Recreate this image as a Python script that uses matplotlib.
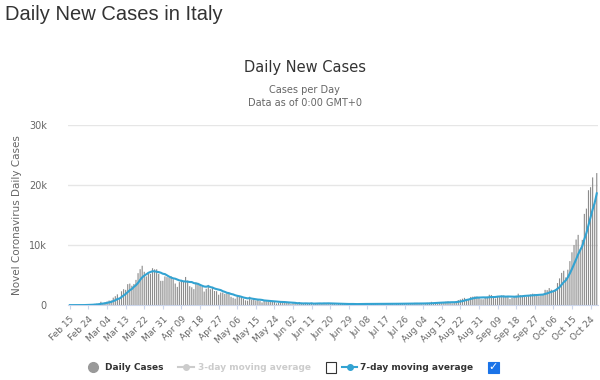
import numpy as np
import pandas as pd
import matplotlib
matplotlib.use("Agg")
import matplotlib.pyplot as plt
from matplotlib.lines import Line2D
from matplotlib.patches import Rectangle

# ---------------- data (Italy, daily new cases, Feb 15 - Oct 27 2020) ----------------
start_date = "2020-02-15"

feb = [0, 0, 0, 0, 0, 0, 17, 59, 76, 74, 93, 131, 202, 233, 240]
mar = [566, 342, 466, 587, 769, 778, 1247, 1492, 1797, 977, 2313, 2651, 2547, 3497, 3590,
       3233, 3526, 4207, 5322, 5986, 6557, 5560, 4789, 5249, 5210, 6153, 5959, 5974, 5217,
       4050, 4053]
apr = [4782, 4668, 4585, 4805, 4316, 3599, 3039, 3836, 4204, 3951, 4694, 4092, 3153, 2972,
       2667, 3786, 3493, 3491, 3047, 2256, 2729, 3370, 2646, 3021, 2357, 2324, 1739, 2091,
       2086, 1872]
may = [1965, 1900, 1389, 1221, 1075, 1444, 1401, 1327, 1083, 802, 744, 1402, 888, 992, 789,
       875, 675, 451, 813, 665, 642, 652, 669, 531, 300, 397, 584, 593, 516, 416, 355]
jun = [178, 318, 321, 177, 518, 270, 197, 280, 283, 202, 379, 163, 346, 338, 301, 210, 329,
       333, 251, 262, 224, 218, 122, 190, 296, 259, 175, 174, 126, 142]
jul = [187, 201, 223, 235, 192, 208, 138, 193, 229, 276, 188, 234, 169, 114, 162, 230, 233,
       249, 218, 190, 129, 282, 306, 252, 275, 255, 170, 181, 202, 289, 386]
aug = [379, 295, 239, 159, 190, 384, 402, 552, 347, 463, 259, 412, 481, 523, 574, 629, 479,
       320, 403, 642, 845, 947, 1071, 1210, 953, 878, 1367, 1411, 1460, 1444, 1365]
sep = [996, 978, 1326, 1397, 1733, 1695, 1297, 1108, 1370, 1434, 1597, 1616, 1501, 1458,
       1008, 1229, 1452, 1585, 1907, 1638, 1587, 1350, 1392, 1640, 1786, 1912, 1869, 1766,
       1494, 1648]
oct_ = [1851, 2548, 2499, 2844, 2578, 2257, 2677, 3678, 4458, 5372, 5724, 4619, 5901, 7332,
        8804, 10010, 10925, 11705, 9338, 10874, 15199, 16079, 19143, 19644, 21273, 17012,
        21994]

daily_cases = np.array(feb + mar + apr + may + jun + jul + aug + sep + oct_, dtype=float)
dates = pd.date_range(start_date, periods=len(daily_cases), freq="D")
avg7 = pd.Series(daily_cases).rolling(7, min_periods=1).mean().values

y_ticks = [0, 10000, 20000, 30000]
y_tick_labels = ["0", "10k", "20k", "30k"]

# ---------------- figure ----------------
BAR = "#8c8c8c"
LINE = "#33a3d2"
TXT = "#666666"

fig = plt.figure(figsize=(6, 3.8), dpi=100)
ax = fig.add_axes([0.113, 0.197, 0.884, 0.474])

x = np.arange(len(daily_cases))
ax.bar(x, daily_cases, width=0.55, color=BAR, linewidth=0, zorder=2, snap=False)
ax.plot(x, avg7, color=LINE, linewidth=1.5, zorder=3)

ax.set_xlim(-1, len(daily_cases) - 0.3)
ax.set_ylim(0, 30000)
ax.set_yticks(y_ticks)
ax.set_yticklabels(y_tick_labels, color=TXT, fontsize=7)
ax.yaxis.grid(True, color="#e6e6e6", linewidth=1, zorder=0)
ax.tick_params(axis="y", length=0, pad=15)

tick_idx = x[::9]
ax.set_xticks(tick_idx)
ax.set_xticklabels([d.strftime("%b %d") for d in dates[::9]], rotation=45, ha="right",
                   rotation_mode="anchor", color=TXT, fontsize=6.5)
ax.tick_params(axis="x", length=3, color="#ccd6eb", pad=4)

for s in ["top", "right", "left"]:
    ax.spines[s].set_visible(False)
ax.spines["bottom"].set_color("#ccd6eb")

ax.set_ylabel("Novel Coronavirus Daily Cases", color=TXT, fontsize=7.5, labelpad=5)

# titles
fig.text(0.008, 0.962, "Daily New Cases in Italy", fontsize=14.5, color="#333333",
         family="Liberation Sans", va="center")
fig.text(0.508, 0.823, "Daily New Cases", fontsize=10.5, color="#333333", ha="center",
         va="center")
fig.text(0.508, 0.763, "Cases per Day", fontsize=7, color=TXT, ha="center", va="center")
fig.text(0.508, 0.728, "Data as of 0:00 GMT+0", fontsize=7, color=TXT, ha="center",
         va="center")

# legend (manual, highcharts style)
ly = 1 - 367 / 380
fig.add_artist(Line2D([93 / 600], [ly], marker="o", markersize=7, color="#999999",
                      linestyle="none"))
fig.text(105 / 600, ly, "Daily Cases", fontsize=6.5, fontweight="bold", color="#333333",
         va="center")
fig.add_artist(Line2D([178 / 600, 194 / 600], [ly, ly], color="#cccccc", linewidth=1.5))
fig.add_artist(Line2D([186 / 600], [ly], color="#cccccc", marker="o", markersize=4))
fig.text(198 / 600, ly, "3-day moving average", fontsize=6.5, fontweight="bold",
         color="#cccccc", va="center")
fig.add_artist(Rectangle((326 / 600, ly - 5.5 / 380), 10 / 600, 11 / 380, fill=False,
                         edgecolor="#333333", linewidth=0.8))
fig.add_artist(Line2D([342 / 600, 357 / 600], [ly, ly], color=LINE, linewidth=1.5))
fig.add_artist(Line2D([349.5 / 600], [ly], color=LINE, marker="o", markersize=4))
fig.text(360 / 600, ly, "7-day moving average", fontsize=6.5, fontweight="bold",
         color="#333333", va="center")
fig.add_artist(Rectangle((488 / 600, ly - 5.5 / 380), 11 / 600, 11 / 380, facecolor="#1a73e8",
                         edgecolor="#1a73e8", linewidth=0.8))
fig.text(493.5 / 600, ly, "\u2713", fontsize=8, color="white", ha="center", va="center",
         fontweight="bold")

plt.savefig("out.png", dpi=100)
